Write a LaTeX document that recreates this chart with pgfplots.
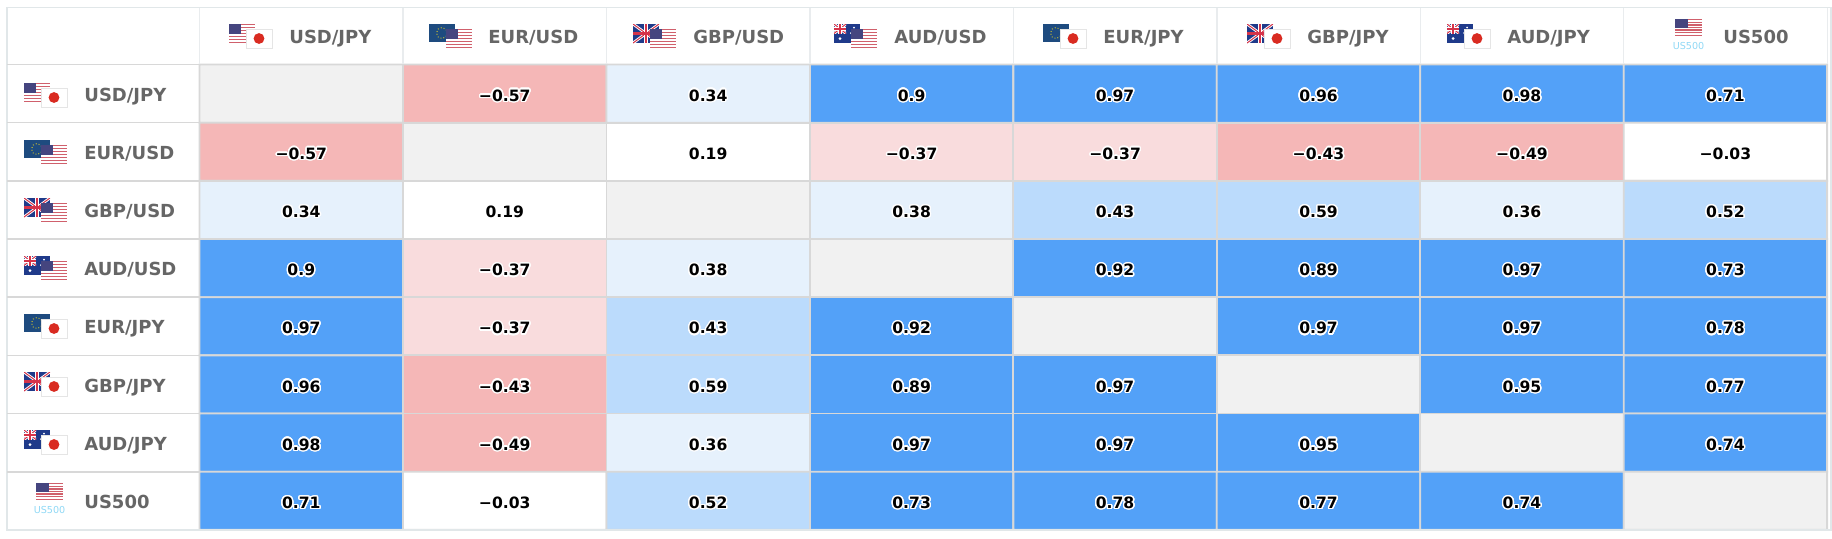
\documentclass[border=0pt]{standalone}
\usepackage{fontspec}
\setmainfont{DejaVu Sans}
\usepackage{pgfplots}
\usepackage{pgfplotstable}
\usepackage{contour}
\pgfplotsset{compat=1.18}
\contourlength{0.7pt}
\contournumber{24}

\definecolor{labelInk}{HTML}{666666}
\definecolor{cellLine}{HTML}{D8D8D8}
\definecolor{frameLine}{HTML}{E1E7E9}
\definecolor{headLine}{HTML}{E9ECEE}
\definecolor{usRed}{HTML}{D0606C}
\definecolor{usBlue}{HTML}{45457F}
\definecolor{jpRed}{HTML}{D92B21}
\definecolor{euBlue}{HTML}{1E4B7F}
\definecolor{ukBlue}{HTML}{1F3A8A}
\definecolor{ukRed}{HTML}{D5344A}
\definecolor{tagBlue}{HTML}{8FD8F5}

% x y correlation label (diagonal = 1, no label)
\pgfplotstableread{
x y r s
0 0 1 {}
1 0 -0.57 −0.57
2 0 0.34 0.34
3 0 0.9 0.9
4 0 0.97 0.97
5 0 0.96 0.96
6 0 0.98 0.98
7 0 0.71 0.71
0 1 -0.57 −0.57
1 1 1 {}
2 1 0.19 0.19
3 1 -0.37 −0.37
4 1 -0.37 −0.37
5 1 -0.43 −0.43
6 1 -0.49 −0.49
7 1 -0.03 −0.03
0 2 0.34 0.34
1 2 0.19 0.19
2 2 1 {}
3 2 0.38 0.38
4 2 0.43 0.43
5 2 0.59 0.59
6 2 0.36 0.36
7 2 0.52 0.52
0 3 0.9 0.9
1 3 -0.37 −0.37
2 3 0.38 0.38
3 3 1 {}
4 3 0.92 0.92
5 3 0.89 0.89
6 3 0.97 0.97
7 3 0.73 0.73
0 4 0.97 0.97
1 4 -0.37 −0.37
2 4 0.43 0.43
3 4 0.92 0.92
4 4 1 {}
5 4 0.97 0.97
6 4 0.97 0.97
7 4 0.78 0.78
0 5 0.96 0.96
1 5 -0.43 −0.43
2 5 0.59 0.59
3 5 0.89 0.89
4 5 0.97 0.97
5 5 1 {}
6 5 0.95 0.95
7 5 0.77 0.77
0 6 0.98 0.98
1 6 -0.49 −0.49
2 6 0.36 0.36
3 6 0.97 0.97
4 6 0.97 0.97
5 6 0.95 0.95
6 6 1 {}
7 6 0.74 0.74
0 7 0.71 0.71
1 7 -0.03 −0.03
2 7 0.52 0.52
3 7 0.73 0.73
4 7 0.78 0.78
5 7 0.77 0.77
6 7 0.74 0.74
7 7 1 {}
}\corrtable

% flags, drawn in pixel units from their top left corner
\newcommand{\flagUS}[2]{\begin{scope}[shift={(#1,#2)}]
  \fill[white] (0,0) rectangle (26,19);
  \foreach \k in {0,2,...,12} \fill[usRed] (0,{\k*19/13}) rectangle (26,{(\k+1)*19/13});
  \fill[usBlue] (0,0) rectangle (12,10.2);
\end{scope}}
\newcommand{\flagJP}[2]{\begin{scope}[shift={(#1,#2)}]
  \filldraw[draw=black!10,fill=white,line width=0.5pt] (0,0) rectangle (26,19);
  \fill[jpRed] (13,9.5) circle[radius=5.4];
\end{scope}}
\newcommand{\flagEU}[2]{\begin{scope}[shift={(#1,#2)}]
  \fill[euBlue] (0,0) rectangle (26,18);
  \draw[yellow!70!black,densely dotted,line width=0.5pt] (13,9) circle[radius=5.5];
\end{scope}}
\newcommand{\jack}[2]{% union jack of size #1 x #2
  \fill[ukBlue] (0,0) rectangle (#1,#2);
  \draw[white,line width=1.4pt] (0,0) -- (#1,#2) (0,#2) -- (#1,0);
  \draw[ukRed,line width=0.5pt] (0,0) -- (#1,#2) (0,#2) -- (#1,0);
  \draw[white,line width=1.9pt] ({#1/2},0) -- ({#1/2},#2) (0,{#2/2}) -- (#1,{#2/2});
  \draw[ukRed,line width=1.1pt] ({#1/2},0) -- ({#1/2},#2) (0,{#2/2}) -- (#1,{#2/2});}
\newcommand{\flagUK}[2]{\begin{scope}[shift={(#1,#2)}]
  \begin{scope}
    \clip (0,0) rectangle (26,19);
    \jack{26}{19}
  \end{scope}
\end{scope}}
\newcommand{\flagAU}[2]{\begin{scope}[shift={(#1,#2)}]
  \fill[ukBlue] (0,0) rectangle (26,19);
  \begin{scope}
    \clip (0,0) rectangle (12,9.5);
    \jack{12}{9.5}
  \end{scope}
  \fill[white] (6,14.5) circle[radius=1.5] (20,3.5) circle[radius=1] (23,8) circle[radius=1]
    (17,9) circle[radius=1] (20,15) circle[radius=1];
\end{scope}}
\newcommand{\tagUS}[2]{\begin{scope}[shift={(#1,#2)}]
  \fill[white] (0,0) rectangle (27,17);
  \foreach \k in {0,2,...,12} \fill[usRed] (0,{\k*17/13}) rectangle (27,{(\k+1)*17/13});
  \fill[usBlue] (0,0) rectangle (13,9);
  \node[font=\fontsize{4.8}{6}\selectfont,text=tagBlue,inner sep=0pt] at (13.5,27) {US500};
\end{scope}}

\begin{document}
\begin{tikzpicture}
  \useasboundingbox (0,0) rectangle (916pt,-269pt);
  \begin{axis}[
    at={(0,0)}, anchor=north west,
    scale only axis,
    width=916pt, height=269pt,
    hide axis,
    clip=false,
    xmin=-1.481, xmax=7.524,
    ymin=-1.609, ymax=7.640,
    y dir=reverse,
    colormap={corr}{
      rgb255=(245,183,183)
      rgb255=(249,220,221)
      rgb255=(255,255,255)
      rgb255=(255,255,255)
      rgb255=(230,241,252)
      rgb255=(187,219,252)
      rgb255=(83,161,248)
      rgb255=(83,161,248)
      rgb255=(241,241,241)
    },
    colormap access=piecewise constant,
    point meta min=-0.6, point meta max=1.2
  ]
    \addplot[matrix plot, mesh/cols=8, point meta=explicit, draw=cellLine, line width=0.9pt]
      table[x=x, y=y, meta=r] {\corrtable};
    \addplot[draw=none, mark=none, point meta=explicit symbolic,
      nodes near coords={\contour{white}{\pgfplotspointmeta}},
      every node near coord/.append style={
        anchor=base, yshift=-3.8pt, inner sep=0pt, text=black,
        font=\fontsize{7.8}{10}\selectfont\bfseries}]
      table[x=x, y=y, meta=s] {\corrtable};
  \end{axis}
  \begin{scope}[x=0.5pt, y=-0.5pt,
      lbl/.style={anchor=base west, inner sep=0pt, text=labelInk,
        font=\fontsize{9}{11}\selectfont\bfseries}]
    % frame and lines of the header row and label column
    \draw[frameLine, line width=0.7pt] (7,7.5) -- (1831,7.5) -- (1831,530) -- (7,530) -- cycle;
    \foreach \i in {0,...,8} \draw[headLine, line width=0.7pt] ({199.6+203.45*\i},8) -- ({199.6+203.45*\i},64);
    \foreach \j in {0,...,7} \draw[cellLine, line width=0.8pt] (7,{64.5+58.17*\j}) -- (199.6,{64.5+58.17*\j});
    % header labels
    \node[lbl] at (289,43) {USD/JPY};
    \node[lbl] at (488,43) {EUR/USD};
    \node[lbl] at (693,43) {GBP/USD};
    \node[lbl] at (894,43) {AUD/USD};
    \node[lbl] at (1103,43) {EUR/JPY};
    \node[lbl] at (1307,43) {GBP/JPY};
    \node[lbl] at (1507,43) {AUD/JPY};
    \node[lbl] at (1723,43) {US500};
    \flagUS{229}{24}\flagJP{246}{29}
    \flagEU{429}{24}\flagUS{446}{29}
    \flagUK{633}{24}\flagUS{650}{29}
    \flagAU{834}{24}\flagUS{851}{29}
    \flagEU{1043}{24}\flagJP{1060}{29}
    \flagUK{1247}{24}\flagJP{1264}{29}
    \flagAU{1447}{24}\flagJP{1464}{29}
    \tagUS{1675}{19}
    % row labels
    \node[lbl] at (84,101) {USD/JPY};
    \node[lbl] at (84,159) {EUR/USD};
    \node[lbl] at (84,217) {GBP/USD};
    \node[lbl] at (84,275) {AUD/USD};
    \node[lbl] at (84,333) {EUR/JPY};
    \node[lbl] at (84,392) {GBP/JPY};
    \node[lbl] at (84,450) {AUD/JPY};
    \node[lbl] at (84,508) {US500};
    \flagUS{24}{83}\flagJP{41}{88}
    \flagEU{24}{140}\flagUS{41}{145}
    \flagUK{24}{198}\flagUS{41}{203}
    \flagAU{24}{256}\flagUS{41}{261}
    \flagEU{24}{314}\flagJP{41}{319}
    \flagUK{24}{372}\flagJP{41}{377}
    \flagAU{24}{430}\flagJP{41}{435}
    \tagUS{36}{483}
  \end{scope}
\end{tikzpicture}
\end{document}
